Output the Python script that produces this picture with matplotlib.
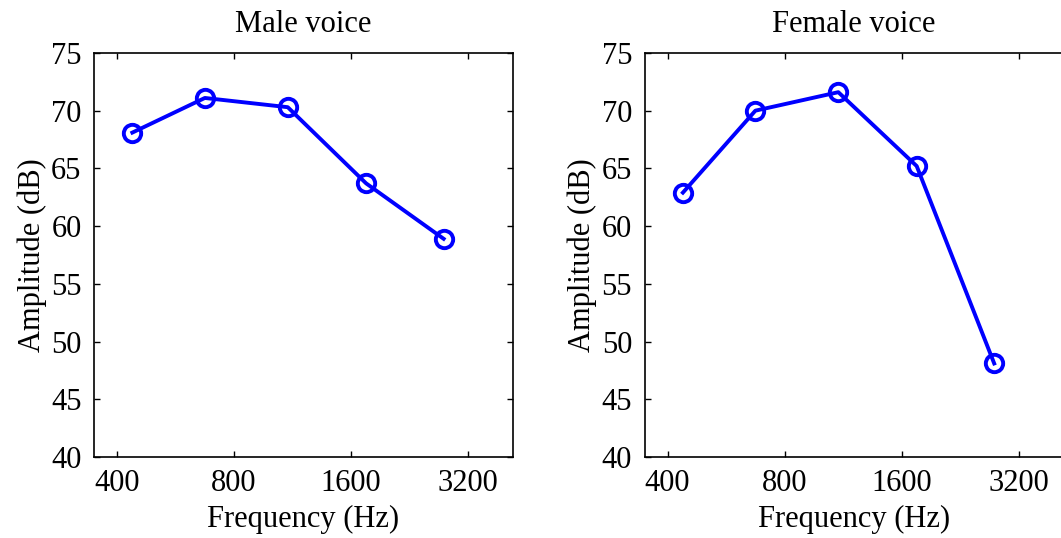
import matplotlib
matplotlib.use("Agg")
import matplotlib.pyplot as plt
from matplotlib.ticker import FixedLocator, NullLocator

plt.rcParams['font.family'] = ['Liberation Serif', 'DejaVu Serif']
plt.rcParams['font.size'] = 22

# band centre frequencies (Hz) and measured levels (dB)
freqs = [438, 673, 1100, 1750, 2770]
male_db = [68.1, 71.1, 70.3, 63.7, 58.9]
female_db = [62.9, 70.0, 71.6, 65.2, 48.1]
titles = ["Male voice", "Female voice"]
xticks = [400, 800, 1600, 3200]
yticks = [40, 45, 50, 55, 60, 65, 70, 75]

fig = plt.figure(figsize=(10.61, 5.38), dpi=100)
ax1 = fig.add_axes([0.0886, 0.1506, 0.395, 0.751])
ax2 = fig.add_axes([0.6075, 0.1506, 0.395, 0.751])

for ax, vals, title in zip([ax1, ax2], [male_db, female_db], titles):
    ax.plot(freqs, vals, color='#0000ff', lw=2.8, marker='o', ms=12.5,
            mfc='none', mec='#0000ff', mew=2.8, clip_on=False)
    ax.set_xscale('log', base=2)
    ax.set_xlim(349, 4180)
    ax.set_ylim(40, 75)
    ax.xaxis.set_major_locator(FixedLocator(xticks))
    ax.xaxis.set_minor_locator(NullLocator())
    ax.set_xticklabels([str(t) for t in xticks])
    ax.set_yticks(yticks)
    ax.tick_params(direction='in', length=4, width=1, top=True, right=True,
                   labelsize=22)
    ax.tick_params(axis='x', pad=9)
    ax.tick_params(axis='y', pad=9)
    for s in ax.spines.values():
        s.set_linewidth(1.2)
    ax.set_title(title, fontsize=22, pad=15)
    ax.set_xlabel("Frequency (Hz)", fontsize=22, labelpad=5)
    ax.set_ylabel("Amplitude (dB)", fontsize=22, labelpad=3)

# right panel runs off the edge of the canvas, so hide its right frame
ax2.spines['right'].set_visible(False)
ax2.tick_params(right=False)

fig.savefig("out.png", dpi=100)
